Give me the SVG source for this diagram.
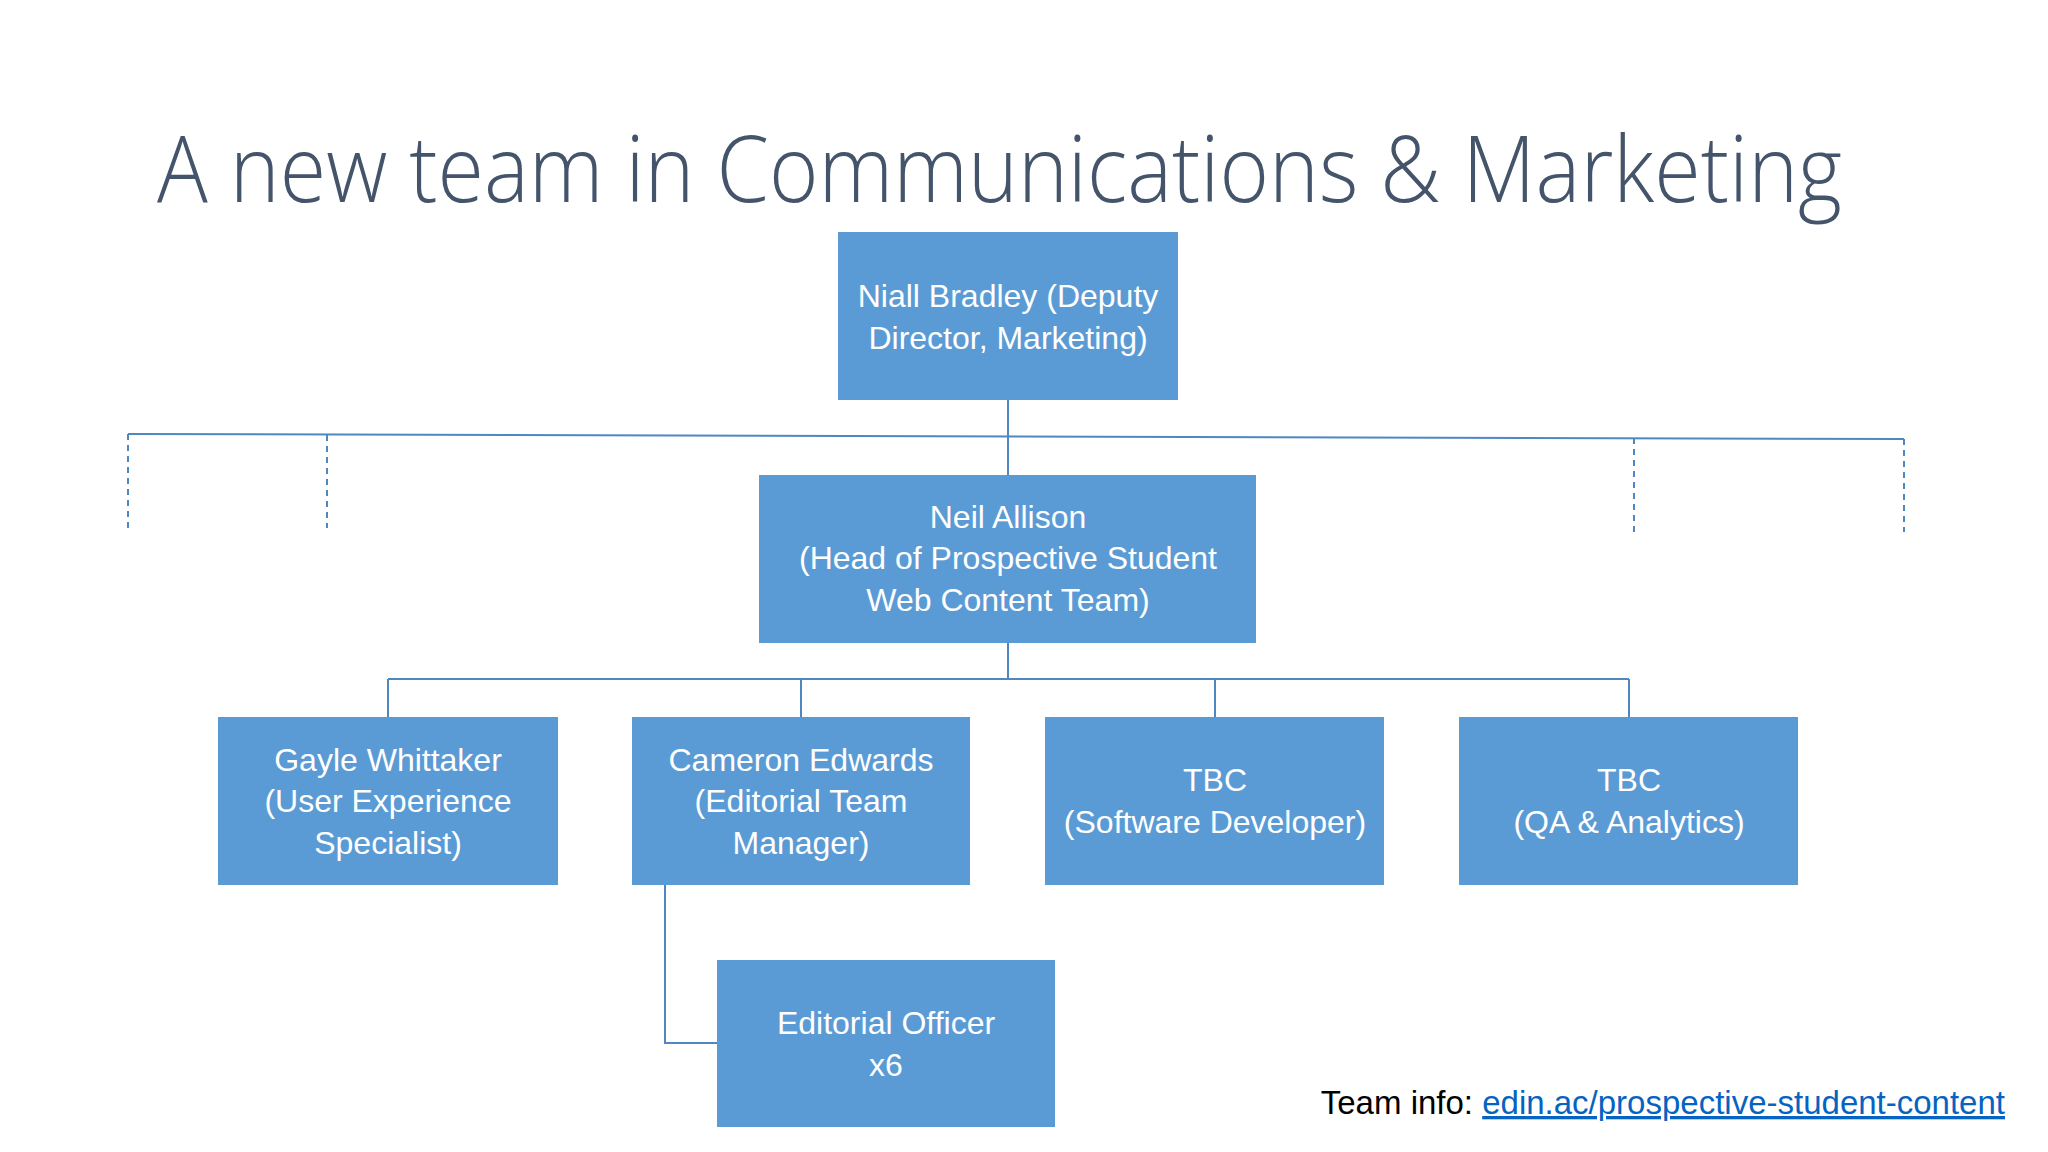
<svg xmlns="http://www.w3.org/2000/svg" width="2048" height="1152" viewBox="0 0 2048 1152">
<style>
.box{fill:#5B9BD5}
.t{font-family:"Liberation Sans",Arial,sans-serif;font-size:32px;fill:#fff;text-anchor:middle}
.ln{stroke:#4F87C0;stroke-width:2;fill:none}
.ds{stroke:#4F87C0;stroke-width:2;fill:none;stroke-dasharray:6,5}
</style>
<rect width="2048" height="1152" fill="#fff"/>
<text x="157" y="202" font-family="Open Sans,Liberation Sans,sans-serif" font-weight="300" font-size="92" fill="#44546A" textLength="1685" lengthAdjust="spacingAndGlyphs">A new team in Communications &amp; Marketing</text>
<g id="connectors">
<path class="ln" d="M1008 400V475M128 434L1904 439M1008 643V679M388 679H1629M388 679V717M801 679V717M1215 679V717M1629 679V717M665 885V1043H717"/>
<path class="ds" d="M128 434V528M327 435V528M1634 438V532M1904 439V532"/>
</g>
<g id="niall"><rect class="box" x="838" y="232" width="340" height="168"/><text class="t" x="1008" y="307">Niall Bradley (Deputy</text><text class="t" x="1008" y="349">Director, Marketing)</text></g>
<g id="neil"><rect class="box" x="759" y="475" width="497" height="168"/><text class="t" x="1008" y="528">Neil Allison</text><text class="t" x="1008" y="569">(Head of Prospective Student</text><text class="t" x="1008" y="611">Web Content Team)</text></g>
<g id="gayle"><rect class="box" x="218" y="717" width="340" height="168"/><text class="t" x="388" y="771">Gayle Whittaker</text><text class="t" x="388" y="812">(User Experience</text><text class="t" x="388" y="854">Specialist)</text></g>
<g id="cameron"><rect class="box" x="632" y="717" width="338" height="168"/><text class="t" x="801" y="771">Cameron Edwards</text><text class="t" x="801" y="812">(Editorial Team</text><text class="t" x="801" y="854">Manager)</text></g>
<g id="tbc1"><rect class="box" x="1045" y="717" width="339" height="168"/><text class="t" x="1215" y="791">TBC</text><text class="t" x="1215" y="833">(Software Developer)</text></g>
<g id="tbc2"><rect class="box" x="1459" y="717" width="339" height="168"/><text class="t" x="1629" y="791">TBC</text><text class="t" x="1629" y="833">(QA &amp; Analytics)</text></g>
<g id="editorial"><rect class="box" x="717" y="960" width="338" height="167"/><text class="t" x="886" y="1034">Editorial Officer</text><text class="t" x="886" y="1076">x6</text></g>
<text x="2005" y="1114" text-anchor="end" font-family="Liberation Sans,Arial,sans-serif" font-size="33" fill="#000">Team info: <tspan fill="#0563C1" text-decoration="underline">edin.ac/prospective-student-content</tspan></text>
</svg>
